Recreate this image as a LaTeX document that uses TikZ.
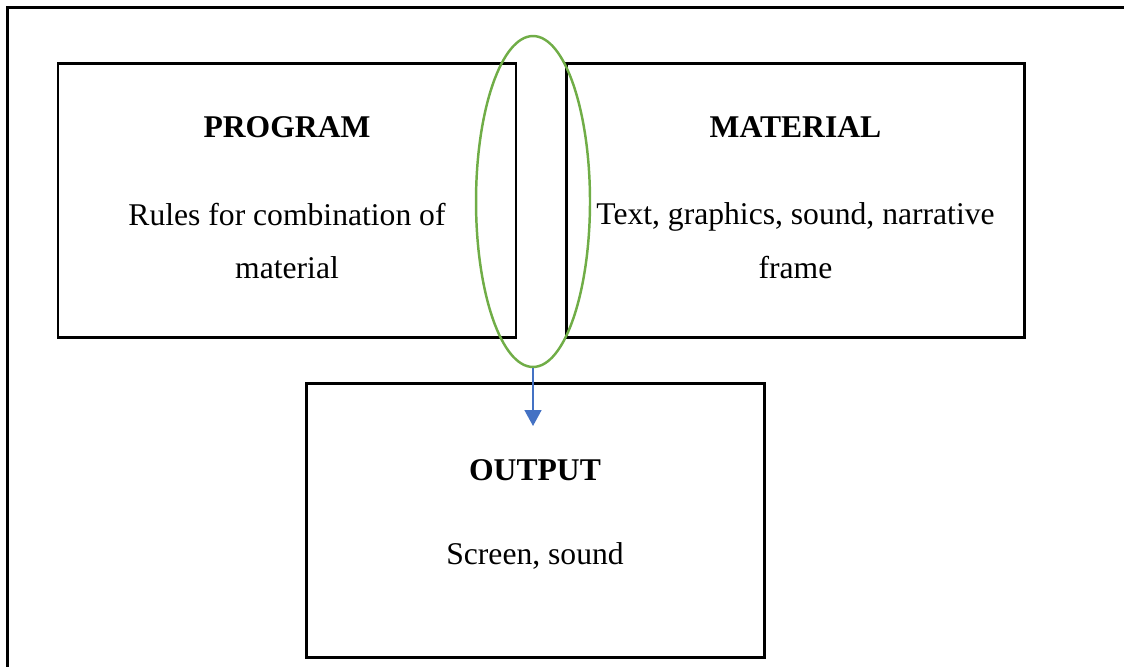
\documentclass[tikz,border=0pt]{standalone}
\usepackage{fontspec}
\setmainfont{Liberation Serif}
\usetikzlibrary{positioning, shapes.geometric, arrows.meta}
\definecolor{loopgreen}{HTML}{70AD47}
\definecolor{flowblue}{HTML}{4472C4}

\begin{document}
\begin{tikzpicture}[
  x=0.02cm, y=-0.02cm,
  font=\fontsize{18}{30.6}\selectfont,
  panel/.style={draw, line width=1.4pt, minimum width=9.17cm, minimum height=5.48cm, inner sep=0pt},
  head/.style={font=\fontsize{18}{22}\selectfont\bfseries},
  body/.style={align=center},
  flow/.style={-{Triangle[length=0.32cm, width=0.34cm]}, flowblue, line width=0.85pt}]
\useasboundingbox (0,0) rectangle (1124,666);
\clip (0,0) rectangle (1124,666);
\draw[line width=1.5pt] (7.5,7.5) rectangle (1140,690);

\node[panel] (program) at (287,200.5) {};
\node[panel] (material) at (795.5,200.5) {};
\node[panel] (output) at (535.5,520.5) {};

\node[head] (programhead) at (287,127) {PROGRAM};
\node[body] (programtext) at (287,241) {Rules for combination of\\material};
\node[head] (materialhead) at (795.5,127) {MATERIAL};
\node[body] (materialtext) at (795.5,241) {Text, graphics, sound, narrative\\frame};
\node[head] (outputhead) at (535,470) {OUTPUT};
\node[body] (outputtext) at (535,556) {Screen, sound};

\node[draw=loopgreen, line width=1.4pt, ellipse, inner sep=0pt,
  minimum width=2.28cm, minimum height=6.62cm] (overlap) at (533,201.5) {};
\coordinate (drop) at (533,426);
\draw[flow] (overlap.south)--(drop);
\end{tikzpicture}
\end{document}
